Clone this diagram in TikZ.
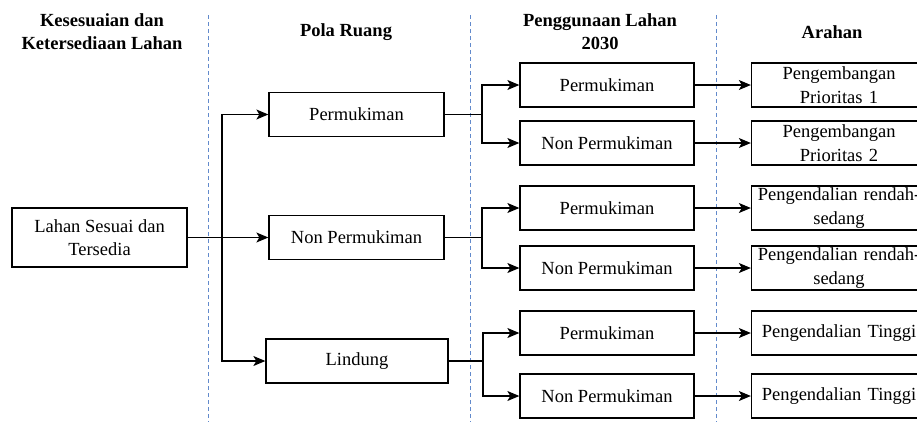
\documentclass[tikz,border=0pt]{standalone}
\usepackage{fontspec}
\setmainfont{Liberation Serif}
\usetikzlibrary{arrows.meta}
\definecolor{divblue}{RGB}{98,138,204}
\begin{document}
\begin{tikzpicture}[x=1pt, y=-1pt, line width=1.2pt]
\tikzstyle{every node} = [font=\fontsize{18.5}{23.5}\selectfont, align=center]
\tikzstyle{box} = [draw, rectangle, line width=1.3pt, minimum width=175pt, minimum height=44pt, inner sep=0pt]
\tikzstyle{arahbox} = [box, text width=166pt]
\tikzstyle{head} = [font=\fontsize{18.5}{23}\selectfont\bfseries]
\tikzstyle{arr} = [-{Stealth[length=12pt, width=10pt, inset=3pt]}]
\tikzstyle{divider} = [divblue, line width=0.8pt, dash pattern=on 4pt off 3pt]
\useasboundingbox (0,0) rectangle (917,426);
% column dividers
\draw[divider] (208,15) -- (208,422);
\draw[divider] (470,15) -- (470,422);
\draw[divider] (716,15) -- (716,422);
% headings
\node[head] (h1) at (102,31.5) {Kesesuaian dan\\Ketersediaan Lahan};
\node[head] (h2) at (346,32) {Pola Ruang};
\node[head] (h3) at (600,32) {Penggunaan Lahan\\2030};
\node[head] (h4) at (832,32) {Arahan};
% boxes
\node[box, minimum height=59pt] (lahan) at (99.5,237.5) {Lahan Sesuai dan\\Tersedia};
\node[box] (pperm) at (356.5,114.5) {Permukiman};
\node[box] (pnon) at (356.5,237.5) {Non Permukiman};
\node[box, minimum width=182pt] (plind) at (357,361) {Lindung};
\node[box, minimum width=174pt] (g1) at (607,85) {Permukiman};
\node[box, minimum width=174pt] (g2) at (607,143) {Non Permukiman};
\node[box, minimum width=174pt] (g3) at (607,208) {Permukiman};
\node[box, minimum width=174pt] (g4) at (607,268) {Non Permukiman};
\node[box, minimum width=174pt] (g5) at (607,333) {Permukiman};
\node[box, minimum width=174pt] (g6) at (607,396) {Non Permukiman};
\node[arahbox] (a1) at (839,85) {Pengembangan\\Prioritas 1};
\node[arahbox] (a2) at (839,143) {Pengembangan\\Prioritas 2};
\node[arahbox] (a3) at (839,208) {Pengendalian rendah-\\sedang};
\node[arahbox] (a4) at (839,268) {Pengendalian rendah-\\sedang};
\node[arahbox] (a5) at (839,333) {Pengendalian Tinggi};
\node[arahbox] (a6) at (839,396) {Pengendalian Tinggi};
% forks
\coordinate (f0) at (222,237.5);
\coordinate (f1) at (482,114.5);
\coordinate (f2) at (482,237.5);
\coordinate (f3) at (483,361);
\draw[arr] (lahan) -- (pnon);
\foreach \to in {pperm, plind}
\draw[arr] (f0) |- (\to.west);
\foreach \from/\fork in {pperm/f1, pnon/f2, plind/f3}
\draw (\from.east) -- (\fork);
\foreach \fork/\to in {f1/g1, f1/g2, f2/g3, f2/g4, f3/g5, f3/g6}
\draw[arr] (\fork) |- (\to.west);
\foreach \i in {1,...,6}
\draw[arr] (g\i) -- (a\i);
\end{tikzpicture}
\end{document}
